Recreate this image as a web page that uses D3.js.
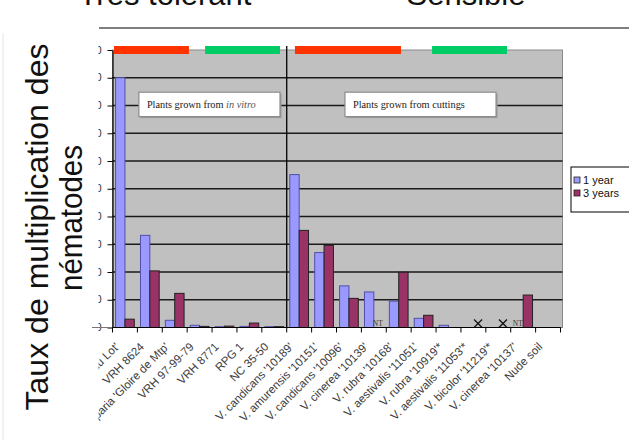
<!DOCTYPE html>
<html>
<head>
<meta charset="utf-8">
<script src="https://cdn.jsdelivr.net/npm/d3@7/dist/d3.min.js"></script>
<style>
  body { margin: 0; background: #fff; }
  svg { display: block; }
</style>
</head>
<body>
<script>
// ---------------- DATA ----------------
const categories = [
  "Rupestris du Lot'", "VRH 8624", "V. riparia 'Gloire de Mtp'", "VRH 97-99-79",
  "VRH 8771", "RPG 1", "NC 35-50", "V. candicans '10189'", "V. amurensis '10151'",
  "V. candicans '10096'", "V. cinerea '10139'", "V. rubra '10168'",
  "V. aestivalis '11051'", "V. rubra '10919'*", "V. aestivalis '11053'*",
  "V. bicolor '11219'*", "V. cinerea '10137'", "Nude soil"
];
const seriesNames = ["1 year", "3 years"];
const year1 = [90, 33.2, 2.6, 0.8, 0.3, 0.4, 0.3, 55.1, 27.0, 15.0, 12.8, 9.5, 3.3, 0.8, 0, 0, 0, 0];
const year3 = [3.0, 20.4, 12.3, 0.4, 0.5, 1.6, 0.3, 35.0, 29.6, 10.5, 0, 19.9, 4.4, 0, 0, 0, 11.7, 0];
const status1 = ["", "", "", "", "", "", "", "", "", "", "", "", "", "", "", "", "NT", ""];
const status3 = ["", "", "", "", "", "", "", "", "", "", "NT", "", "", "", "X", "X", "", ""];
const yTicks = [0, 10, 20, 30, 40, 50, 60, 70, 80, 90, 100];
const yTitle = ["Taux de multiplication des", "nématodes"];
const groupTitles = ["Très tolérant", "Sensible"];
// group bars: [start, end] in category units
const groupBars = [
  { from: 0.06, to: 3.07, kind: "tol" },
  { from: 3.72, to: 6.73, kind: "sens" },
  { from: 7.33, to: 11.59, kind: "tol" },
  { from: 12.84, to: 15.85, kind: "sens" }
];
const notes = [
  { from: 1.06, to: 6.73, top: 84.8, bottom: 76.0, text: "Plants grown from ", italic: "in vitro" },
  { from: 9.34, to: 15.41, top: 84.8, bottom: 76.0, text: "Plants grown from cuttings", italic: "" }
];
const dividerAfter = 7;

// ---------------- LAYOUT ----------------
const W = 629, H = 443;
const plot = { left: 112.5, right: 560.5, top: 50, bottom: 327.5, grayRight: 562.5 };
const colors = { s1: "#9999ff", s3: "#993366", tol: "#ff3300", sens: "#00cc66", plotBg: "#c0c0c0" };

const svg = d3.select("body").append("svg").attr("width", W).attr("height", H);

const x = d3.scaleBand().domain(categories).range([plot.left, plot.right]).paddingInner(0).paddingOuter(0);
const xs = d3.scaleBand().domain(seriesNames).range([0, x.bandwidth()]).paddingInner(0).paddingOuter(0.33);
const xc = d3.scaleLinear().domain([0, categories.length]).range([plot.left, plot.right]);
const y = d3.scaleLinear().domain([0, 100]).range([plot.bottom, plot.top]);

// clip (user space of un-transformed groups)
svg.append("defs").append("clipPath").attr("id", "clipL")
  .append("rect").attr("x", 98.5).attr("y", 0).attr("width", W).attr("height", H);

// left border line of slide
svg.append("line").attr("x1", 3).attr("x2", 3).attr("y1", 33).attr("y2", 440)
  .attr("stroke", "#e4e4e4").attr("stroke-width", 1);

// top titles
svg.append("text").attr("x", 165).attr("y", 5).attr("text-anchor", "middle")
  .attr("font-family", "Liberation Sans, Arial, sans-serif").attr("font-size", 31).attr("fill", "#111")
  .text(groupTitles[0]);
svg.append("text").attr("x", 466).attr("y", 5).attr("text-anchor", "middle")
  .attr("font-family", "Liberation Sans, Arial, sans-serif").attr("font-size", 31).attr("fill", "#111")
  .text(groupTitles[1]);
svg.append("line").attr("x1", 99).attr("x2", W).attr("y1", 28).attr("y2", 28)
  .attr("stroke", "#555").attr("stroke-width", 1.5);

// plot background
svg.append("rect").attr("x", plot.left).attr("y", plot.top)
  .attr("width", plot.grayRight - plot.left).attr("height", plot.bottom - plot.top)
  .attr("fill", colors.plotBg).attr("stroke", "#8a8a8a").attr("stroke-width", 1);

// gridlines
svg.append("g").selectAll("line").data(yTicks.filter(d => d > 0 && d < 100)).join("line")
  .attr("x1", plot.left).attr("x2", plot.grayRight)
  .attr("y1", d => y(d)).attr("y2", d => y(d))
  .attr("stroke", "#1a1a1a").attr("stroke-width", 1.3);

// y axis
const yAxis = svg.append("g").attr("clip-path", "url(#clipL)")
  .append("g").attr("transform", `translate(${plot.left},0)`)
  .call(d3.axisLeft(y).tickValues(yTicks).tickSize(5).tickPadding(6).tickSizeOuter(0));
yAxis.select(".domain").attr("stroke", "#000").attr("stroke-width", 1.2);
yAxis.selectAll(".tick line").attr("stroke", "#000");
yAxis.selectAll(".tick text").attr("font-family", "Liberation Sans, Arial, sans-serif")
  .attr("font-size", 10).attr("fill", "#222");

// divider
svg.append("line")
  .attr("x1", x(categories[dividerAfter])).attr("x2", x(categories[dividerAfter]))
  .attr("y1", plot.top - 4).attr("y2", plot.bottom)
  .attr("stroke", "#000").attr("stroke-width", 1.3);

// group colour bars
svg.append("g").selectAll("rect").data(groupBars).join("rect")
  .attr("x", d => xc(d.from)).attr("width", d => xc(d.to) - xc(d.from))
  .attr("y", y(100) - 4).attr("height", 8)
  .attr("fill", d => colors[d.kind]);

// note boxes
const nb = svg.append("g").selectAll("g").data(notes).join("g");
nb.append("rect")
  .attr("x", d => xc(d.from) + 1.5).attr("y", d => y(d.top) + 1.5)
  .attr("width", d => xc(d.to) - xc(d.from)).attr("height", d => y(d.bottom) - y(d.top))
  .attr("fill", "#9a9a9a");
nb.append("rect")
  .attr("x", d => xc(d.from)).attr("y", d => y(d.top))
  .attr("width", d => xc(d.to) - xc(d.from)).attr("height", d => y(d.bottom) - y(d.top))
  .attr("fill", "#fff").attr("stroke", "#8c8c8c").attr("stroke-width", 1.2);
const nt = nb.append("text")
  .attr("x", d => xc(d.from) + 8).attr("y", d => (y(d.top) + y(d.bottom)) / 2 + 3.5)
  .attr("font-family", "Liberation Serif, Times New Roman, serif").attr("font-size", 10.3)
  .attr("fill", "#1a1a1a");
nt.append("tspan").text(d => d.text);
nt.append("tspan").attr("font-style", "italic").attr("fill", "#555").text(d => d.italic);

// bars
const rows = categories.map((c, i) => ({ c, vals: [
  { s: seriesNames[0], v: year1[i], st: status1[i], col: colors.s1 },
  { s: seriesNames[1], v: year3[i], st: status3[i], col: colors.s3 }
]}));
const cg = svg.append("g").selectAll("g").data(rows).join("g")
  .attr("transform", d => `translate(${x(d.c)},0)`);
cg.selectAll("rect").data(d => d.vals.filter(v => v.st === "" && v.v > 0)).join("rect")
  .attr("x", d => xs(d.s)).attr("width", xs.bandwidth())
  .attr("y", d => y(d.v)).attr("height", d => y(0) - y(d.v))
  .attr("fill", d => d.col).attr("stroke", d => d.s === seriesNames[0] ? "#5050a8" : "#222")
  .attr("stroke-width", 1);
// NT labels
cg.selectAll("text.nt").data(d => d.vals.filter(v => v.st === "NT")).join("text")
  .attr("class", "nt").attr("x", d => xs(d.s) - 1).attr("y", y(0) - 1.5)
  .attr("font-family", "Liberation Serif, Times New Roman, serif").attr("font-size", 7.5)
  .attr("fill", "#333").text("NT");
// X marks
const xm = cg.selectAll("g.xm").data(d => d.vals.filter(v => v.st === "X")).join("g")
  .attr("class", "xm")
  .attr("transform", d => `translate(${xs(d.s) + xs.bandwidth() / 2},${y(0) - 4})`);
xm.append("line").attr("x1", -4).attr("x2", 4).attr("y1", -4).attr("y2", 4).attr("stroke", "#111").attr("stroke-width", 1.3);
xm.append("line").attr("x1", -4).attr("x2", 4).attr("y1", 4).attr("y2", -4).attr("stroke", "#111").attr("stroke-width", 1.3);

// x axis baseline & ticks at band boundaries
svg.append("line").attr("x1", 92).attr("x2", plot.grayRight).attr("y1", y(0)).attr("y2", y(0))
  .attr("stroke", "#777").attr("stroke-width", 1);
svg.append("line").attr("x1", plot.left).attr("x2", plot.right).attr("y1", y(0)).attr("y2", y(0))
  .attr("stroke", "#000").attr("stroke-width", 1.2);
const bounds = categories.map(c => x(c)).concat([x(categories[categories.length - 1]) + x.bandwidth()]);
svg.append("g").selectAll("line").data(bounds).join("line")
  .attr("x1", d => d).attr("x2", d => d).attr("y1", y(0)).attr("y2", y(0) + 5)
  .attr("stroke", "#000").attr("stroke-width", 1);

// x labels
svg.append("g").attr("clip-path", "url(#clipL)")
  .selectAll("text").data(categories).join("text")
  .attr("transform", d => `translate(${x(d) + x.bandwidth() / 2 - 5},${y(0) + 20}) rotate(-45)`)
  .attr("text-anchor", "end")
  .attr("font-family", "Liberation Sans, Arial, sans-serif").attr("font-size", 11.5)
  .attr("fill", "#3a3a3a").text(d => d);

// legend
const lg = svg.append("g").attr("transform", "translate(571,167)");
lg.append("rect").attr("width", 70).attr("height", 45).attr("fill", "#fff").attr("stroke", "#000").attr("stroke-width", 1);
const li = lg.selectAll("g").data(seriesNames).join("g")
  .attr("transform", (d, i) => `translate(3,${10 + i * 13})`);
li.append("rect").attr("width", 6).attr("height", 6)
  .attr("fill", (d, i) => i === 0 ? colors.s1 : colors.s3).attr("stroke", "#222").attr("stroke-width", 0.8);
li.append("text").attr("x", 9).attr("y", 6.5)
  .attr("font-family", "Liberation Sans, Arial, sans-serif").attr("font-size", 11)
  .attr("fill", "#111").text(d => d);

// y title
const yt = svg.append("g");
yt.append("text").attr("transform", "translate(48,227) rotate(-90)").attr("text-anchor", "middle")
  .attr("font-family", "Liberation Sans, Arial, sans-serif").attr("font-size", 31).attr("fill", "#111")
  .attr("textLength", 367).attr("lengthAdjust", "spacingAndGlyphs").text(yTitle[0]);
yt.append("text").attr("transform", "translate(82,218) rotate(-90)").attr("text-anchor", "middle")
  .attr("font-family", "Liberation Sans, Arial, sans-serif").attr("font-size", 31).attr("fill", "#111")
  .attr("textLength", 146).attr("lengthAdjust", "spacingAndGlyphs").text(yTitle[1]);
</script>
</body>
</html>
